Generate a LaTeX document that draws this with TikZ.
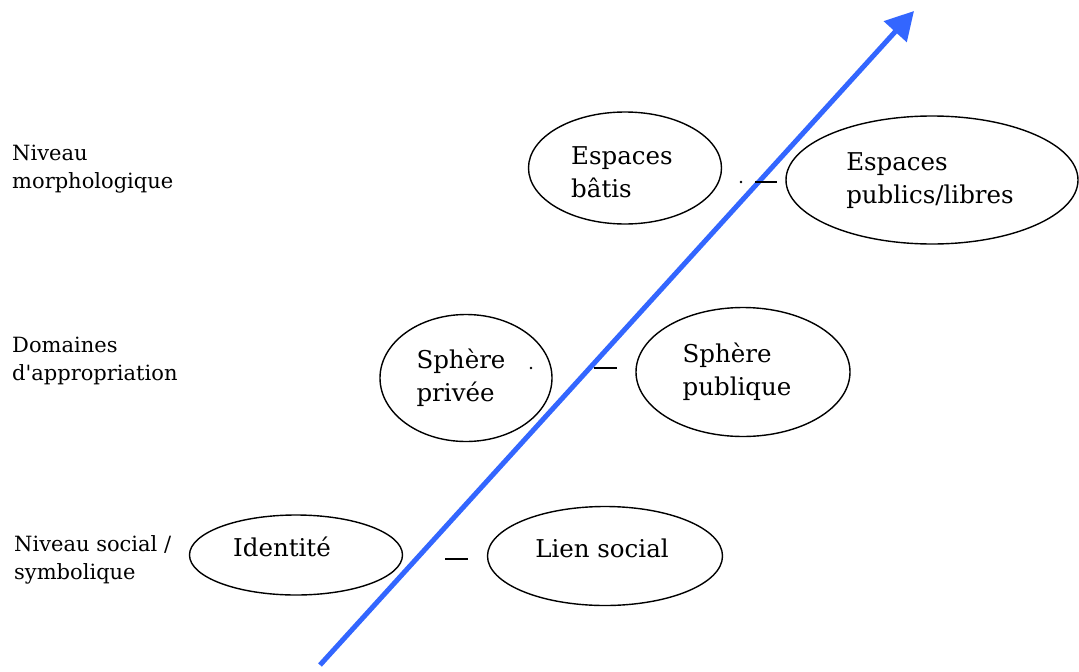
\documentclass[tikz,border=0pt]{standalone}
\usepackage{fontspec}
\setmainfont{DejaVu Serif}
\usetikzlibrary{shapes.geometric,arrows.meta}
\definecolor{axisblue}{RGB}{51,102,255}
\tikzset{
  oval/.style={ellipse,draw=black,line width=1.4pt,inner sep=0pt},
  ovaltext/.style={align=left,font=\fontsize{24.5}{33}\selectfont,inner sep=0pt},
  leveltext/.style={align=left,anchor=base west,font=\fontsize{21}{28}\selectfont,inner sep=0pt},
  sep/.style={line width=1.6pt,black},
  axis/.style={draw=axisblue,line width=5pt,-{Triangle[length=28pt,width=30pt]}}
}
\begin{document}
\begin{tikzpicture}[x=1pt,y=-1pt]
\useasboundingbox (0,0) rectangle (1079,672);
% level labels (anchored at baseline of last line)
\node[leveltext] (l1) at (12,188) {Niveau\\morphologique};
\node[leveltext] (l2) at (12,380) {Domaines\\d\textquotesingle appropriation};
\node[leveltext] (l3) at (14,579) {Niveau social /\\symbolique};
% axis
\coordinate (a0) at (320,665);
\coordinate (a1) at (914,11);
\draw[axis] (a0) -- (a1);
% ovals
\node[oval,minimum width=193pt,minimum height=112pt] (e1) at (625,168) {};
\node[oval,minimum width=292pt,minimum height=128pt] (e2) at (932,180) {};
\node[oval,minimum width=172pt,minimum height=127pt] (e3) at (466,378) {};
\node[oval,minimum width=214pt,minimum height=129pt] (e4) at (743,372) {};
\node[oval,minimum width=213pt,minimum height=80pt] (e5) at (296,555) {};
\node[oval,minimum width=235pt,minimum height=99pt] (e6) at (605,556) {};
% oval texts
\node[ovaltext] (t1) at (622,172) {Espaces\\bâtis};
\node[ovaltext] (t2) at (930,181) {Espaces\\publics/libres};
\node[ovaltext] (t3) at (461,378) {Sphère\\privée};
\node[ovaltext] (t4) at (737,372) {Sphère\\publique};
\node[ovaltext] (t5) at (282,547) {Identité};
\node[ovaltext] (t6) at (602,548) {Lien social};
% separators
\coordinate (s1a) at (755,182); \coordinate (s1b) at (777,182);
\coordinate (s2a) at (594,368); \coordinate (s2b) at (617,368);
\coordinate (s3a) at (445,559); \coordinate (s3b) at (468,559);
\draw[sep] (s1a) -- (s1b);
\draw[sep] (s2a) -- (s2b);
\draw[sep] (s3a) -- (s3b);
\coordinate (d1) at (741,182);
\coordinate (d2) at (531,368);
\fill (d1) circle (1.3pt);
\fill (d2) circle (1.3pt);
\end{tikzpicture}
\end{document}
